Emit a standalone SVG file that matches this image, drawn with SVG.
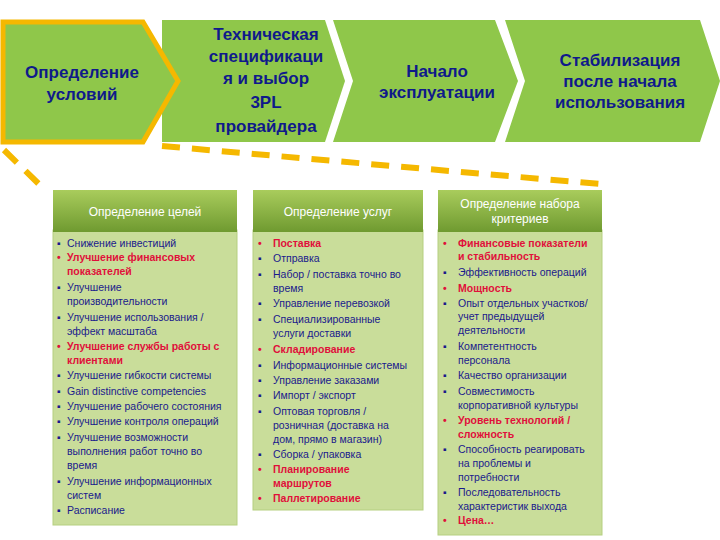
<svg xmlns="http://www.w3.org/2000/svg" width="720" height="540" viewBox="0 0 720 540">
<style>
.chev{fill:#8fc74a}
.ct{font-family:"Liberation Sans",Arial,sans-serif;font-weight:bold;font-size:17px;fill:#0f1a8a;text-anchor:middle}
.hd{font-family:"Liberation Sans",Arial,sans-serif;font-size:12px;fill:#fff;text-anchor:middle}
.b{font-family:"Liberation Sans",Arial,sans-serif;font-size:10.5px;fill:#1a1a8c}
.r{fill:#e0103a;font-weight:bold}
.body{fill:#c9dd9a;stroke:#b5cf80;stroke-width:1}
.dash{stroke:#f5b800;stroke-width:6;stroke-dasharray:18 12;fill:none}
</style>
<defs>
<linearGradient id="hg" x1="0" y1="0" x2="0" y2="1">
<stop offset="0" stop-color="#a9cc5c"/><stop offset="1" stop-color="#6f9a30"/>
</linearGradient>
</defs>
<rect width="720" height="540" fill="#fff"/>
<g id="connectors">
<line class="dash" x1="4" y1="150" x2="45" y2="190"/>
<line class="dash" x1="162" y1="146" x2="600" y2="184"/>
</g>
<g id="chev4"><polygon class="chev" points="505,20 700,20 720,81 700,142 505,142 525,81"/>
<text class="ct" x="620" y="66">Стабилизация</text><text class="ct" x="620" y="87">после начала</text><text class="ct" x="620" y="108">использования</text></g>
<g id="chev3"><polygon class="chev" points="333,20 495,20 518,81 495,142 333,142 353,81"/>
<text class="ct" x="437" y="77">Начало</text><text class="ct" x="437" y="98">эксплуатации</text></g>
<g id="chev2"><polygon class="chev" points="162,20 325,20 345,81 325,142 162,142"/>
<text class="ct" x="266" y="40">Техническая</text><text class="ct" x="266" y="62">спецификаци</text><text class="ct" x="266" y="84">я и выбор</text><text class="ct" x="266" y="108">3PL</text><text class="ct" x="266" y="132">провайдера</text></g>
<g id="chev1"><polygon class="chev" points="3,22 143,22 178,81 143,142 3,142" stroke="#f5b800" stroke-width="5"/>
<text class="ct" x="82" y="78">Определение</text><text class="ct" x="82" y="100">условий</text></g>
<g id="col1">
<rect class="body" x="53" y="230" width="184" height="295"/>
<rect x="53" y="190" width="184" height="42" fill="url(#hg)"/>
<text class="hd" x="145" y="216">Определение целей</text>
<g class="b">
<text x="57" y="247">▪</text><text x="67" y="247">Снижение инвестиций</text>
<text x="57" y="261" class="r">•</text><text x="67" y="261" class="r">Улучшение финансовых</text><text x="67" y="275" class="r">показателей</text>
<text x="57" y="291">▪</text><text x="67" y="291">Улучшение</text><text x="67" y="305">производительности</text>
<text x="57" y="321">▪</text><text x="67" y="321">Улучшение использования /</text><text x="67" y="335">эффект масштаба</text>
<text x="57" y="350" class="r">•</text><text x="67" y="350" class="r">Улучшение службы работы с</text><text x="67" y="364" class="r">клиентами</text>
<text x="57" y="379">▪</text><text x="67" y="379">Улучшение гибкости системы</text>
<text x="57" y="395">▪</text><text x="67" y="395">Gain distinctive competencies</text>
<text x="57" y="410">▪</text><text x="67" y="410">Улучшение рабочего состояния</text>
<text x="57" y="425">▪</text><text x="67" y="425">Улучшение контроля операций</text>
<text x="57" y="441">▪</text><text x="67" y="441">Улучшение возможности</text><text x="67" y="455">выполнения работ точно во</text><text x="67" y="469">время</text>
<text x="57" y="485">▪</text><text x="67" y="485">Улучшение информационных</text><text x="67" y="499">систем</text>
<text x="57" y="514">▪</text><text x="67" y="514">Расписание</text>
</g></g>
<g id="col2">
<rect class="body" x="253" y="230" width="170" height="280"/>
<rect x="253" y="190" width="170" height="42" fill="url(#hg)"/>
<text class="hd" x="338" y="216">Определение услуг</text>
<g class="b">
<text x="258" y="247" class="r">•</text><text x="273" y="247" class="r">Поставка</text>
<text x="258" y="262">▪</text><text x="273" y="262">Отправка</text>
<text x="258" y="278">▪</text><text x="273" y="278">Набор / поставка точно во</text><text x="273" y="292">время</text>
<text x="258" y="307">▪</text><text x="273" y="307">Управление перевозкой</text>
<text x="258" y="323">▪</text><text x="273" y="323">Специализированные</text><text x="273" y="337">услуги доставки</text>
<text x="258" y="353" class="r">•</text><text x="273" y="353" class="r">Складирование</text>
<text x="258" y="369">▪</text><text x="273" y="369">Информационные системы</text>
<text x="258" y="384">▪</text><text x="273" y="384">Управление заказами</text>
<text x="258" y="399">▪</text><text x="273" y="399">Импорт / экспорт</text>
<text x="258" y="415">▪</text><text x="273" y="415">Оптовая торговля /</text><text x="273" y="429">розничная (доставка на</text><text x="273" y="443">дом, прямо в магазин)</text>
<text x="258" y="458">▪</text><text x="273" y="458">Сборка / упаковка</text>
<text x="258" y="473" class="r">•</text><text x="273" y="473" class="r">Планирование</text><text x="273" y="487" class="r">маршрутов</text>
<text x="258" y="502" class="r">•</text><text x="273" y="502" class="r">Паллетирование</text>
</g></g>
<g id="col3">
<rect class="body" x="438" y="230" width="164" height="305"/>
<rect x="438" y="190" width="164" height="42" fill="url(#hg)"/>
<text class="hd" x="520" y="208">Определение набора</text><text class="hd" x="520" y="223">критериев</text>
<g class="b">
<text x="443" y="247" class="r">•</text><text x="458" y="247" class="r">Финансовые показатели</text><text x="458" y="260" class="r">и стабильность</text>
<text x="443" y="276">▪</text><text x="458" y="276">Эффективность операций</text>
<text x="443" y="292" class="r">•</text><text x="458" y="292" class="r">Мощность</text>
<text x="443" y="307">▪</text><text x="458" y="307">Опыт отдельных участков/</text><text x="458" y="320">учет предыдущей</text><text x="458" y="334">деятельности</text>
<text x="443" y="350">▪</text><text x="458" y="350">Компетентность</text><text x="458" y="364">персонала</text>
<text x="443" y="379">▪</text><text x="458" y="379">Качество организации</text>
<text x="443" y="395">▪</text><text x="458" y="395">Совместимость</text><text x="458" y="409">корпоративной культуры</text>
<text x="443" y="424" class="r">•</text><text x="458" y="424" class="r">Уровень технологий /</text><text x="458" y="438" class="r">сложность</text>
<text x="443" y="453">▪</text><text x="458" y="453">Способность реагировать</text><text x="458" y="467">на проблемы и</text><text x="458" y="481">потребности</text>
<text x="443" y="496">▪</text><text x="458" y="496">Последовательность</text><text x="458" y="510">характеристик выхода</text>
<text x="443" y="524" class="r">•</text><text x="458" y="524" class="r">Цена…</text>
</g></g>
</svg>
